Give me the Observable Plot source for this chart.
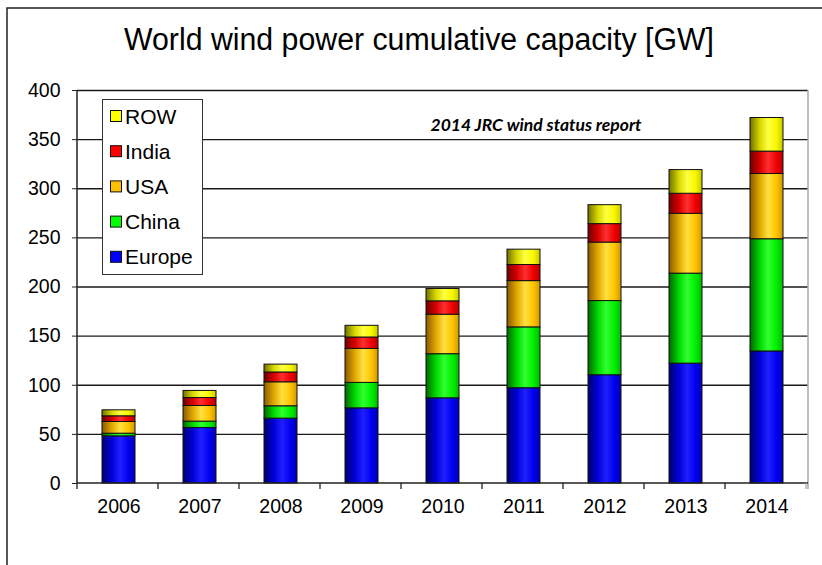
<!DOCTYPE html>
<html>
<head>
<meta charset="utf-8">
<script src="https://cdn.jsdelivr.net/npm/d3@7"></script>
<script src="https://cdn.jsdelivr.net/npm/@observablehq/plot@0.6"></script>
<style>
  body { margin: 0; background: white; }
  #chart { width: 822px; height: 565px; position: relative; }
</style>
</head>
<body>
<div id="chart"></div>
<script>
const years = ["2006", "2007", "2008", "2009", "2010", "2011", "2012", "2013", "2014"];
const europe = [48, 56.5, 66, 76.5, 86.7, 97, 110.2, 122, 134.4];
const china  = [2.7, 6.5, 12.6, 25.9, 44.9, 61.9, 75.5, 91.6, 114.2];
const usa    = [11.9, 15.9, 24.4, 34.6, 40.2, 47.1, 59.5, 60.9, 66.4];
const india  = [5.8, 8.1, 10, 11.6, 13.6, 16.4, 18.8, 20.4, 22.8];
const row    = [6.1, 7.2, 8, 11.9, 12.6, 15.6, 19.3, 24.1, 34.2];
const seriesNames = ["Europe", "China", "USA", "India", "ROW"];
const seriesColors = ["#0000ff", "#00ff00", "#ffc000", "#ff0000", "#ffff00"];
const yTicks = [0, 50, 100, 150, 200, 250, 300, 350, 400];
const titleText = "World wind power cumulative capacity [GW]";
const noteText = "2014 JRC wind status report";

const seriesValues = [europe, china, usa, india, row];
const data = [];
seriesNames.forEach((s, i) => years.forEach((y, j) => data.push({year: y, series: s, value: seriesValues[i][j]})));

// gradient stops (dark left edge, bright middle, slightly darker right)
const gradStops = {
  Europe: ["#000070", "#0000d8", "#2020ff", "#0000f0", "#0000b8"],
  China:  ["#006800", "#00d800", "#30ff30", "#00f000", "#00b800"],
  USA:    ["#8a5a00", "#e0a800", "#ffe040", "#ffc400", "#d09800"],
  India:  ["#700000", "#d80000", "#ff3030", "#f00000", "#b80000"],
  ROW:    ["#707000", "#d8d800", "#ffff40", "#f8f800", "#c8c800"]
};
const gradId = s => "grad-" + s;
const FONT = "'Liberation Sans', Arial, sans-serif";

const chart = Plot.plot({
  width: 822,
  height: 565,
  marginLeft: 77,
  marginRight: 14,
  marginTop: 90,
  marginBottom: 82,
  style: {fontFamily: FONT, fontSize: "19px", background: "white", color: "#000"},
  x: {domain: years, paddingInner: 0.59, paddingOuter: 0.295, label: null},
  y: {domain: [0, 400], label: null},
  color: {domain: seriesNames, range: seriesNames.map(s => `url(#${gradId(s)})`)},
  marks: [
    Plot.ruleY(yTicks.filter(d => d > 0), {stroke: "#1a1a1a", strokeWidth: 1.4}),
    Plot.barY(data, {x: "year", y: "value", fill: "series", stroke: "#111", strokeWidth: 1}),
    Plot.axisY({ticks: yTicks, tickSize: 5, tickPadding: 12, fontSize: 19.5, stroke: "#222"}),
    Plot.axisX({tickSize: 0, tickPadding: 16, fontSize: 19.5}),
    Plot.text([noteText], {x: () => "2011", y: () => 364, dx: 12, text: d => d, fontSize: 17.5, fontWeight: "bold", fontStyle: "italic", fontFamily: "Lato, 'Open Sans', sans-serif"})
  ]
});

document.getElementById("chart").appendChild(chart);

const svg = d3.select(chart);
const defs = svg.insert("defs", ":first-child");
seriesNames.forEach(s => {
  const g = defs.append("linearGradient").attr("id", gradId(s)).attr("x1", 0).attr("x2", 1).attr("y1", 0).attr("y2", 0);
  const offs = [0, 0.3, 0.55, 0.8, 1];
  gradStops[s].forEach((c, k) => g.append("stop").attr("offset", offs[k]).attr("stop-color", c));
});

const xs = chart.scale("x");
const ys = chart.scale("y");
const step = xs.step;
const left = 77, right = 822 - 14;
const y0 = ys.apply(0), yTop = ys.apply(400);

// plot area right border (light gray)
svg.append("line").attr("x1", right).attr("x2", right).attr("y1", yTop).attr("y2", y0 + 6)
  .attr("stroke", "#aaa").attr("stroke-width", 1.5);
// y axis line
svg.append("line").attr("x1", left).attr("x2", left).attr("y1", yTop).attr("y2", y0)
  .attr("stroke", "#222").attr("stroke-width", 1.5);
// x axis line
svg.append("line").attr("x1", left).attr("x2", right).attr("y1", y0).attr("y2", y0)
  .attr("stroke", "#222").attr("stroke-width", 1.5);
// x boundary ticks
for (let i = 0; i <= years.length; i++) {
  const x = left + i * step;
  svg.append("line").attr("x1", x).attr("x2", x).attr("y1", y0).attr("y2", y0 + 6)
    .attr("stroke", i === years.length ? "#aaa" : "#222").attr("stroke-width", 1.3);
}
// outer border (top and left)
svg.append("path").attr("d", "M7,565V8H822").attr("fill", "none").attr("stroke", "#222").attr("stroke-width", 1.5);

// title
svg.append("text").attr("x", 419).attr("y", 50).attr("text-anchor", "middle")
  .attr("font-family", FONT).attr("font-size", 31).attr("fill", "#000")
  .attr("textLength", 590).attr("lengthAdjust", "spacingAndGlyphs")
  .text(titleText);

// legend
const lg = svg.append("g");
lg.append("rect").attr("x", 102.5).attr("y", 99.5).attr("width", 100).attr("height", 175)
  .attr("fill", "white").attr("stroke", "#333").attr("stroke-width", 1);
const legendOrder = seriesNames.slice().reverse();
legendOrder.forEach((s, k) => {
  const cy = 116 + k * 35.2;
  lg.append("rect").attr("x", 110.5).attr("y", cy - 5.5).attr("width", 11).attr("height", 11)
    .attr("fill", seriesColors[seriesNames.indexOf(s)]).attr("stroke", "#111").attr("stroke-width", 1);
  lg.append("text").attr("x", 125).attr("y", cy + 7.5).attr("font-size", 21).attr("text-anchor", "start")
    .attr("font-family", FONT).attr("fill", "#000").text(s);
});
</script>
</body>
</html>
